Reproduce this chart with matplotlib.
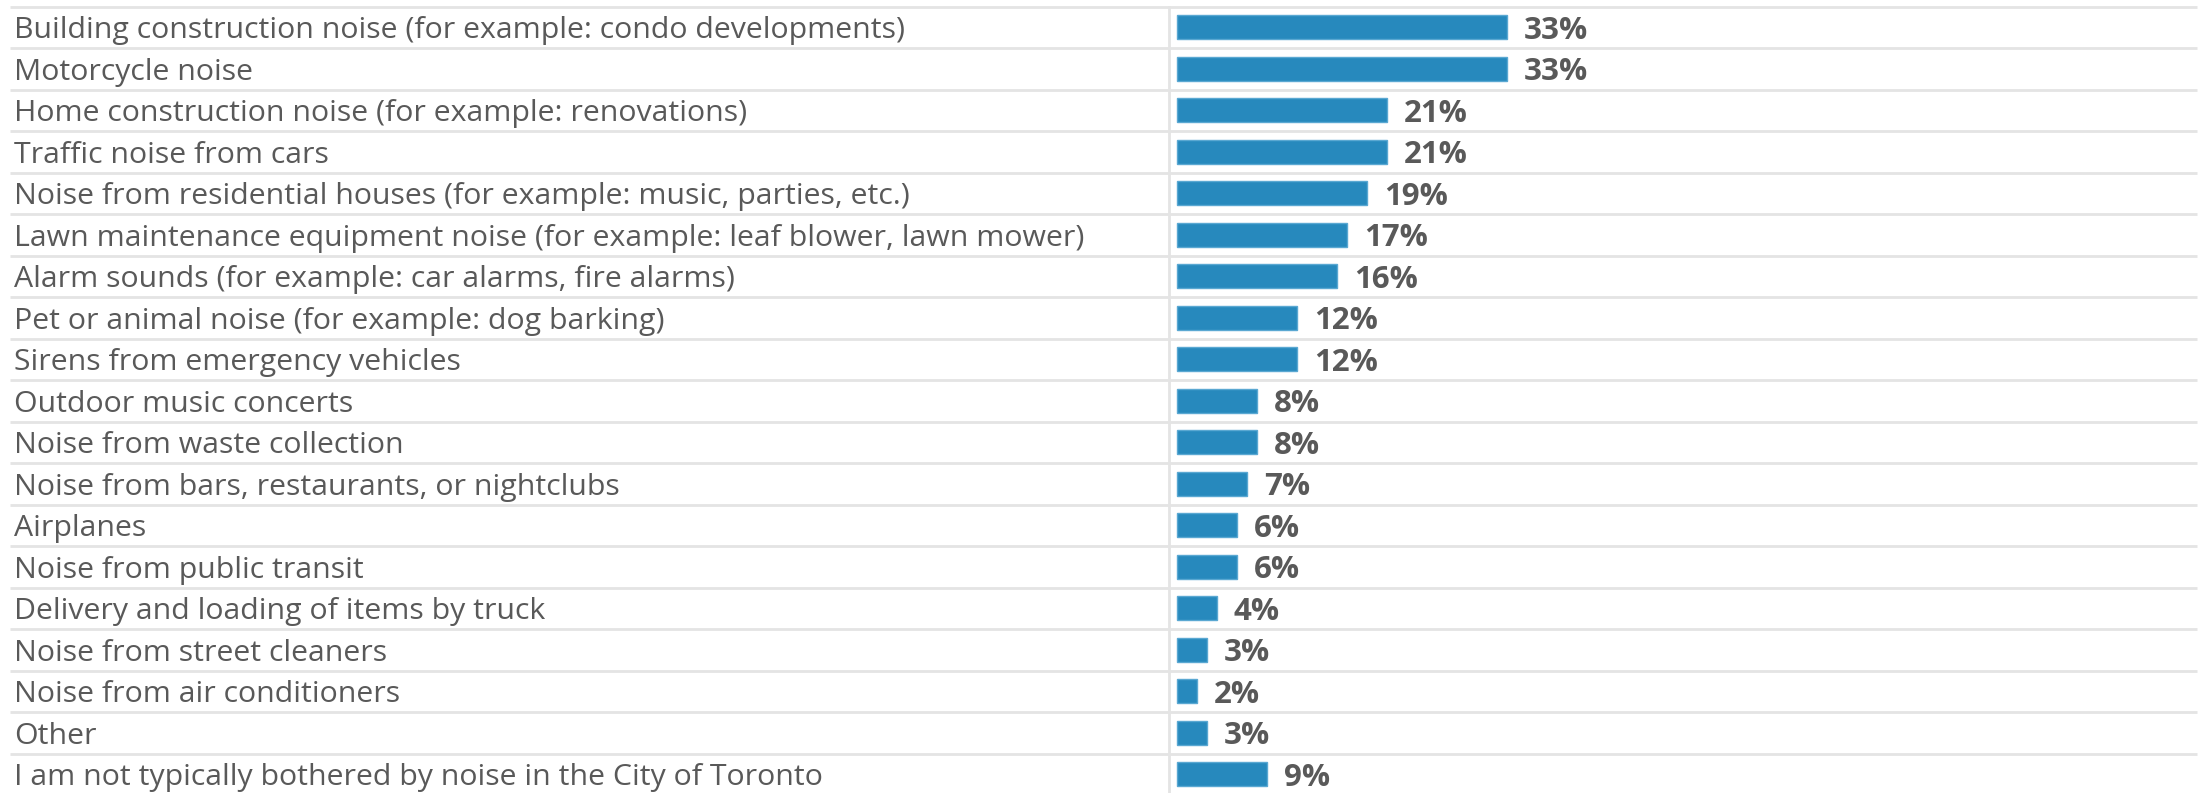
import matplotlib.pyplot as plt

# Survey answers: which noise bothers you most
categories = [
    "Building construction noise (for example: condo developments)",
    "Motorcycle noise",
    "Home construction noise (for example: renovations)",
    "Traffic noise from cars",
    "Noise from residential houses (for example: music, parties, etc.)",
    "Lawn maintenance equipment noise (for example: leaf blower, lawn mower)",
    "Alarm sounds (for example: car alarms, fire alarms)",
    "Pet or animal noise (for example: dog barking)",
    "Sirens from emergency vehicles",
    "Outdoor music concerts",
    "Noise from waste collection",
    "Noise from bars, restaurants, or nightclubs",
    "Airplanes",
    "Noise from public transit",
    "Delivery and loading of items by truck",
    "Noise from street cleaners",
    "Noise from air conditioners",
    "Other",
    "I am not typically bothered by noise in the City of Toronto",
]
values = [33, 33, 21, 21, 19, 17, 16, 12, 12, 8, 8, 7, 6, 6, 4, 3, 2, 3, 9]

BAR_COLOR = "#2789BD"
TEXT_COLOR = "#595959"
GRID_COLOR = "#E4E4E4"

# layout in pixels (figure is 2203 x 793)
W, H = 2203, 793
ZERO_PX = 1177
PX_PER_PCT = 10.0
ROW_H = 41.5
TOP_PX = 6.5

fig = plt.figure(figsize=(W / 100, H / 100), dpi=100)
ax = fig.add_axes([0, 0, 1, 1])
ax.set_xlim(-ZERO_PX / PX_PER_PCT, (W - ZERO_PX) / PX_PER_PCT)
y_top = -0.5 - TOP_PX / ROW_H
ax.set_ylim(y_top + H / ROW_H, y_top)
ax.axis("off")

n = len(categories)
rows = list(range(n))

ax.barh(rows, values, height=0.57, color=BAR_COLOR,
        edgecolor="#5AA8D2", linewidth=1, zorder=3)

# row separators
x_left = (10 - ZERO_PX) / PX_PER_PCT
x_right = (2197 - ZERO_PX) / PX_PER_PCT
for i in range(n + 1):
    ax.plot([x_left, x_right], [i - 0.5, i - 0.5], color=GRID_COLOR,
            lw=2, zorder=1, solid_capstyle="butt")

# vertical divider
x_div = (1169 - ZERO_PX) / PX_PER_PCT
ax.plot([x_div, x_div], [-0.5, n], color=GRID_COLOR, lw=2, zorder=1)

# category labels
x_text = (14 - ZERO_PX) / PX_PER_PCT
for i, cat in enumerate(categories):
    ax.text(x_text, i, cat, ha="left", va="center_baseline",
            fontsize=21.8, color=TEXT_COLOR, family="Open Sans")

# value labels
for i, v in enumerate(values):
    ax.text(v + 1.7, i, f"{v}%", ha="left", va="center_baseline",
            fontsize=22.5, fontweight="bold", color=TEXT_COLOR,
            family="Open Sans")

fig.savefig("out.png", dpi=100)
plt.close(fig)
